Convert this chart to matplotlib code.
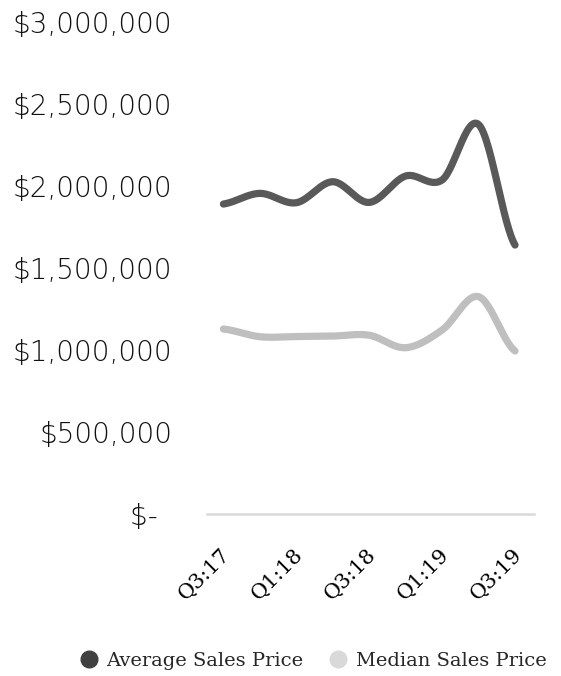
import numpy as np
import matplotlib
matplotlib.use("Agg")
import matplotlib.pyplot as plt
import matplotlib.transforms as mtransforms
from matplotlib.lines import Line2D

quarters = ["Q3:17", "Q4:17", "Q1:18", "Q2:18", "Q3:18", "Q4:18", "Q1:19", "Q2:19", "Q3:19"]
avg_price = [1890000, 1955000, 1898000, 2026000, 1900000, 2061000, 2037000, 2375000, 1640000]
median_price = [1128000, 1081000, 1082000, 1085000, 1090000, 1014000, 1122000, 1325000, 994000]
y_ticks = [0, 500000, 1000000, 1500000, 2000000, 2500000, 3000000]
y_labels = ["$- \u2009", "$500,000", "$1,000,000", "$1,500,000", "$2,000,000", "$2,500,000", "$3,000,000"]
shown_labels = ["Q3:17", "", "Q1:18", "", "Q3:18", "", "Q1:19", "", "Q3:19"]


def smooth(xs, ys, n=30):
    xs = np.asarray(xs, float)
    ys = np.asarray(ys, float)
    px = np.concatenate([[2 * xs[0] - xs[1]], xs, [2 * xs[-1] - xs[-2]]])
    py = np.concatenate([[ys[0]], ys, [ys[-1]]])
    outx, outy = [], []
    for i in range(1, len(px) - 2):
        t = np.linspace(0, 1, n, endpoint=(i == len(px) - 3))
        for arr, out in ((px, outx), (py, outy)):
            p0, p1, p2, p3 = arr[i - 1], arr[i], arr[i + 1], arr[i + 2]
            m1 = (p2 - p0) / 2
            m2 = (p3 - p1) / 2
            h00 = 2 * t**3 - 3 * t**2 + 1
            h10 = t**3 - 2 * t**2 + t
            h01 = -2 * t**3 + 3 * t**2
            h11 = t**3 - t**2
            out.extend(h00 * p1 + h10 * m1 + h01 * p2 + h11 * m2)
    return np.array(outx), np.array(outy)


fig = plt.figure(figsize=(5.61, 6.76), dpi=100)
ax = fig.add_axes([207 / 561, 1 - 514 / 676, (534 - 207) / 561, (514 - 22) / 676])

x = np.arange(len(quarters))
avg_color = "#595959"
med_color = "#bfbfbf"
sx, sy = smooth(x, avg_price)
ax.plot(sx, sy, color=avg_color, lw=5.2, solid_capstyle="round")
sx, sy = smooth(x, median_price)
ax.plot(sx, sy, color=med_color, lw=5.2, solid_capstyle="round")

ax.set_xlim(-0.45, 8.52)
ax.set_ylim(0, 3000000)
for s in ["top", "right", "left"]:
    ax.spines[s].set_visible(False)
ax.spines["bottom"].set_color("#d9d9d9")
ax.spines["bottom"].set_linewidth(1.8)

ax.set_yticks(y_ticks)
ax.set_yticklabels(y_labels, fontfamily="DejaVu Sans", fontweight="light", fontsize=20, color="#111111")
ax.tick_params(axis="y", length=0, pad=25)
ax.set_xticks(x)
ax.set_xticklabels(shown_labels, fontfamily="DejaVu Serif", fontsize=15, rotation=45,
                   ha="right", rotation_mode="anchor", color="#000000")
ax.tick_params(axis="x", length=0, pad=22)
offset = mtransforms.ScaledTranslation(-3 / 100, 0, fig.dpi_scale_trans)
for lbl in ax.get_xticklabels():
    lbl.set_transform(lbl.get_transform() + offset)

handles = [Line2D([], [], marker="o", ls="", color="#404040", markersize=12),
           Line2D([], [], marker="o", ls="", color="#d9d9d9", markersize=12)]
fig.legend(handles, ["Average Sales Price", "Median Sales Price"], loc="center",
           bbox_to_anchor=(308 / 561, 1 - 661 / 676), ncol=2, frameon=False,
           prop={"family": "DejaVu Serif", "size": 14}, handletextpad=-0.1, columnspacing=0.8,
           labelcolor="#262626")

fig.savefig("out.png", dpi=100)
